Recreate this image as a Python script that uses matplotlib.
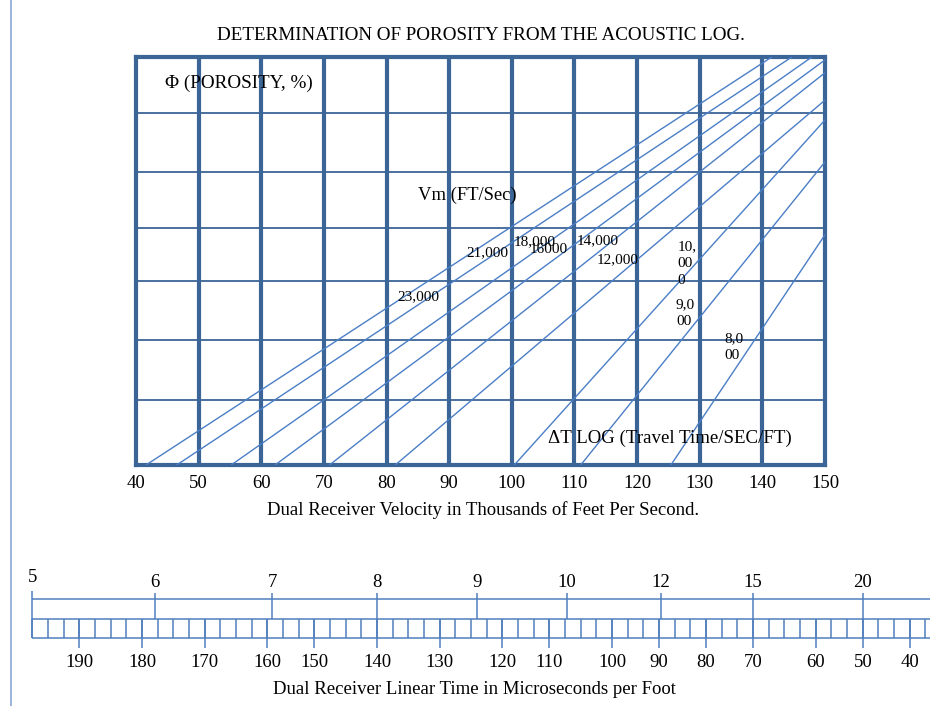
import numpy as np
import matplotlib
matplotlib.use("Agg")
import matplotlib.pyplot as plt

plt.rcParams['font.family'] = ['Liberation Serif', 'DejaVu Serif']

# matrix velocity lines: travel time at zero porosity and where each line leaves the chart
vm_labels = ["23,000", "21,000", "18,000", "16000", "14,000", "12,000", "10,000", "9,000", "8,000"]
dt_zero = [41.6, 46.5, 55.2, 62.2, 70.9, 81.4, 100.4, 111.0, 125.4]
dt_exit = [141.5, 144.7, 147.9, 150, 150, 150, 150, 150, 150]
phi_exit = [70, 70, 70, 69.5, 67.3, 62.6, 59.2, 52.0, 39.5]

dt_ticks = [40, 50, 60, 70, 80, 90, 100, 110, 120, 130, 140, 150]
porosity_grid = [11.2, 21.4, 31.6, 40.7, 50.3, 60.4]

# bottom conversion ruler (hand drawn, positions in ruler cells)
velocity_labels = [5, 6, 7, 8, 9, 10, 12, 15, 20]
velocity_cells = [0, 7.8, 15.3, 22, 28.4, 34.1, 40.1, 46, 53]
time_labels = [190, 180, 170, 160, 150, 140, 130, 120, 110, 100, 90, 80, 70, 60, 50, 40]
time_cells = [3, 7, 11, 15, 18, 22, 26, 30, 33, 37, 40, 43, 46, 50, 53, 56]

frame_c = '#3C6597'
line_c = '#4A7EC6'
ruler_c = '#4F7EBC'

fig = plt.figure(figsize=(9.3, 7.06), dpi=100)

ax = fig.add_axes([136/930, 1 - 465/706, (825 - 136)/930, (465 - 57)/706])
ax.set_xlim(40, 150)
ax.set_ylim(0, 70)
for s in ax.spines.values():
    s.set_color(frame_c)
    s.set_linewidth(3)
for y in porosity_grid:
    ax.axhline(y, color=frame_c, lw=1.3, zorder=1)
for x in dt_ticks[1:-1]:
    ax.axvline(x, color=frame_c, lw=3, zorder=2)
for x0, x1, y1 in zip(dt_zero, dt_exit, phi_exit):
    ax.plot([x0, x1], [0, y1], color=line_c, lw=1.0, zorder=3)

ax.set_xticks(dt_ticks)
ax.set_yticks([])
ax.tick_params(axis='x', length=0, pad=7, labelsize=13.5)

ax.text(44.6, 65.5, "\u03a6 (POROSITY, %)", fontsize=13.8, va='center')
ax.text(85.0, 46.3, "Vm (FT/Sec)", fontsize=13.4, va='center')
ax.text(105.8, 4.6, "\u0394T LOG (Travel Time/SEC/FT)", fontsize=13.6, va='center')

lab_pos = [(81.7, 28.8), (92.8, 36.5), (100.3, 38.3), (102.9, 36.9), (110.4, 38.4),
           (113.6, 35.3), (126.5, 34.6), (126.2, 26.1), (133.9, 20.2)]
lab_text = list(vm_labels[:6]) + ["10,\n00\n0", "9,0\n00", "8,0\n00"]
for (x, y), t in zip(lab_pos, lab_text):
    ax.text(x, y, t, fontsize=11, va='center', ha='left', linespacing=1.4)

fig.text(481/930, 1 - 35/706, "DETERMINATION OF POROSITY FROM THE ACOUSTIC LOG.",
         ha='center', va='center', fontsize=13.7)
fig.text(483/930, 1 - 510/706, "Dual Receiver Velocity in Thousands of Feet Per Second.",
         ha='center', va='center', fontsize=13.5)

# ruler
cell = 15.67
xmax = (930 - 32.3) / cell
rax = fig.add_axes([32.3/930, 1 - 637.7/706, 1 - 32.3/930, (637.7 - 599.3)/706])
rax.set_xlim(0, xmax)
rax.set_ylim(0, 2)
rax.axis('off')
kw = dict(color=ruler_c, lw=1.1, clip_on=False)
rax.hlines([0, 1, 2], 0, xmax, **kw)
rax.vlines(np.arange(0, xmax, 1), 0, 1, **kw)
rax.vlines(time_cells, -0.52, 1, **kw)
rax.vlines(velocity_cells[1:], 1, 2.33, **kw)
rax.vlines(0, 0, 2.45, **kw)
for v, c in zip(velocity_labels, velocity_cells):
    rax.text(c, 3.16 if v == 5 else 2.85, str(v), ha='center', va='center', fontsize=13.5)
for v, c in zip(time_labels, time_cells):
    rax.text(c, -1.27, str(v), ha='center', va='center', fontsize=13.5)

fig.text(474/930, 1 - 689/706, "Dual Receiver Linear Time in Microseconds per Foot",
         ha='center', va='center', fontsize=13.5)

# page edge
fig.add_artist(plt.Line2D([11/930, 11/930], [0, 1], color='#7F9FD0', lw=1.1))

fig.savefig("out.png", dpi=100)
